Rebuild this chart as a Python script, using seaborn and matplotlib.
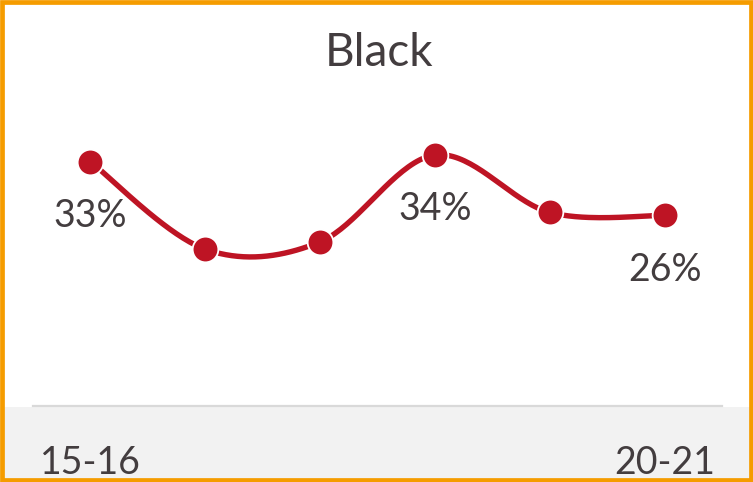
import numpy as np
import pandas as pd
import matplotlib
matplotlib.use("Agg")
import matplotlib.pyplot as plt
from matplotlib.patches import Rectangle
import seaborn as sns

# Share of students by school year
years = ["15-16", "16-17", "17-18", "18-19", "19-20", "20-21"]
values = [33.2, 21.3, 22.3, 34.1, 26.3, 25.9]
labelled = {0: "33%", 3: "34%", 5: "26%"}
tick_labels = ["15-16", "", "", "", "", "20-21"]

sns.set_theme(style="white")
plt.rcParams["font.family"] = ["Lato", "DejaVu Sans"]

LINE = "#BE1424"
TEXT = "#433D3F"

df = pd.DataFrame({"pos": np.arange(len(years)), "value": values})


def smooth_curve(x, y, steps=40):
    """Cubic Bezier smoothing through every point (Catmull-Rom style)."""
    pts = np.column_stack([x, y]).astype(float)
    ext = np.vstack([pts[0], pts, pts[-1]])
    out = []
    for i in range(len(pts) - 1):
        p0, p1, p2, p3 = ext[i], ext[i + 1], ext[i + 2], ext[i + 3]
        c1 = p1 + (p2 - p0) / 6.0
        c2 = p2 - (p3 - p1) / 6.0
        t = np.linspace(0, 1, steps)[:, None]
        seg = ((1 - t) ** 3) * p1 + 3 * ((1 - t) ** 2) * t * c1 + 3 * (1 - t) * t ** 2 * c2 + t ** 3 * p2
        out.append(seg if i == 0 else seg[1:])
    out = np.vstack(out)
    return out[:, 0], out[:, 1]


fig = plt.figure(figsize=(7.53, 4.82), dpi=100)
W, H = 753, 482

# grey band behind the category labels
fig.patches.append(Rectangle((0, 0), 1, (H - 407) / H, transform=fig.transFigure,
                             facecolor="#F2F2F2", edgecolor="none", zorder=-1))

ax = fig.add_axes([33 / W, 1 - 406 / H, (722 - 33) / W, (406 - 38) / H])
ax.set_facecolor("none")

sx, sy = smooth_curve(df["pos"], df["value"])
sns.lineplot(x=sx, y=sy, ax=ax, color=LINE, linewidth=3.9, sort=False,
             estimator=None, zorder=2)
sns.scatterplot(data=df, x="pos", y="value", ax=ax, color=LINE, s=18.5 ** 2,
                edgecolor="white", linewidth=1.3, zorder=3)

for i, txt in labelled.items():
    ax.annotate(txt, (df["pos"][i], df["value"][i]), xytext=(0, -39),
                textcoords="offset points", ha="center", va="center",
                fontsize=27, color=TEXT)

ax.set_xlim(-0.5, len(years) - 0.5)
ax.set_ylim(0, 50)
ax.set_xticks(df["pos"])
ax.set_xticklabels(tick_labels, fontsize=27, color=TEXT)
ax.tick_params(axis="x", length=0, pad=28)
ax.set_yticks([])
ax.set_xlabel("")
ax.set_ylabel("")
for side in ["top", "left", "right"]:
    ax.spines[side].set_visible(False)
ax.spines["bottom"].set_color("#D9D9D9")
ax.spines["bottom"].set_linewidth(1.6)

fig.text(0.503, 1 - 53 / H, "Black", ha="center", va="center",
         fontsize=33, color=TEXT)

# orange frame
fig.patches.append(Rectangle((0.0025, 0.004), 0.995, 0.992, transform=fig.transFigure,
                             facecolor="none", edgecolor="#F59C00", linewidth=3.4,
                             zorder=10))

fig.savefig("out.png", dpi=100)
